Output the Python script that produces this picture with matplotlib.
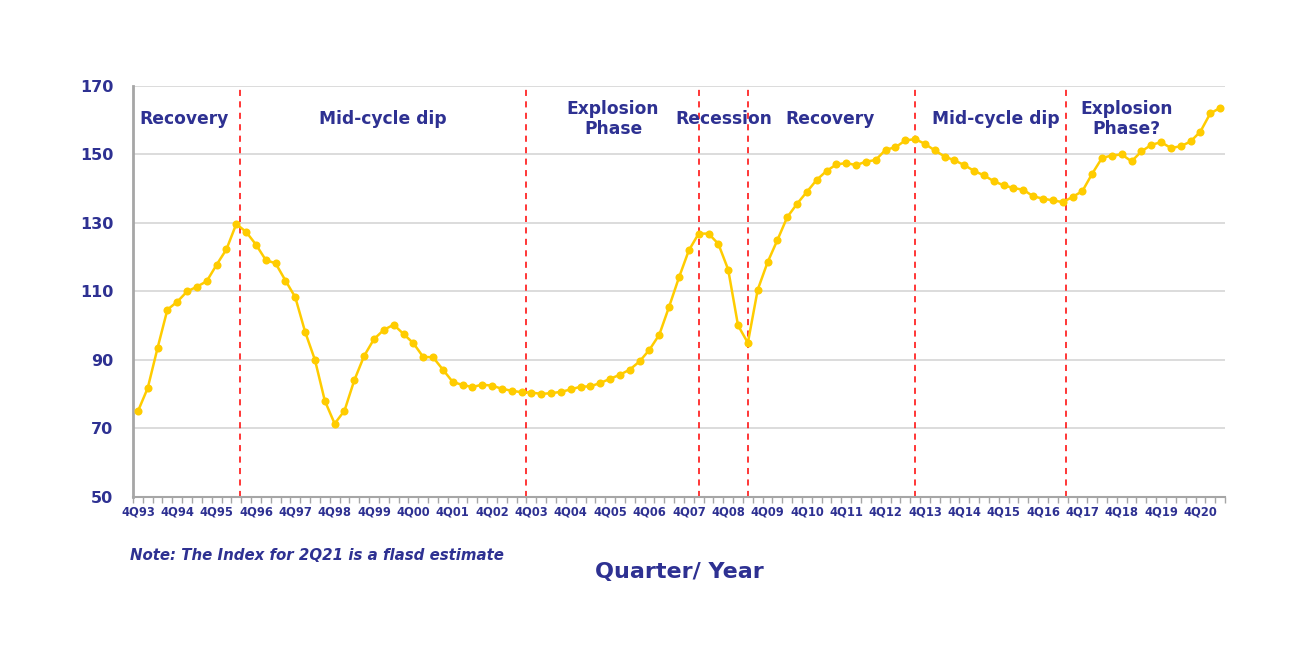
import numpy as np
import matplotlib
matplotlib.use("Agg")
import matplotlib.pyplot as plt

# quarters 4Q93 .. 2Q21
years = list(range(1993, 2022))
quarters = []
for y in years:
    for q in range(1, 5):
        if (y == 1993 and q < 4) or (y == 2021 and q > 2):
            continue
        quarters.append("%dQ%02d" % (q, y % 100))

index_values = [
    75.0, 81.8, 93.5, 104.7, 107.0, 110.0, 111.4, 113.0, 117.8, 122.3,
    129.7, 127.4, 123.7, 119.2, 118.2, 113.2, 108.3, 98.2, 90.0, 78.1,
    71.4, 75.2, 84.1, 91.2, 96.1, 98.8, 100.3, 97.6, 94.9, 90.9,
    90.8, 87.2, 83.6, 82.7, 82.1, 82.8, 82.5, 81.6, 81.0, 80.6,
    80.5, 80.1, 80.3, 80.7, 81.4, 82.2, 82.3, 83.3, 84.5, 85.7,
    87.2, 89.6, 93.0, 97.4, 105.6, 114.1, 122.0, 126.9, 126.9, 123.9,
    116.4, 100.1, 95.0, 110.5, 118.5, 125.0, 131.7, 135.6, 139.1, 142.6,
    145.2, 147.1, 147.5, 146.9, 147.9, 148.4, 151.4, 152.1, 154.1, 154.5,
    153.1, 151.2, 149.4, 148.3, 146.9, 145.2, 143.9, 142.2, 141.0, 140.2,
    139.7, 137.8, 137.1, 136.6, 136.1, 137.6, 139.3, 144.4, 149.0, 149.7,
    150.0, 148.0, 150.9, 152.8, 153.6, 151.9, 152.4, 153.8, 156.7, 162.0,
    163.6,
]

# phase boundaries (in quarter index) and phase labels
phase_breaks = [10.4, 39.5, 57.0, 62.0, 79.0, 94.3]
phase_names = ["Recovery", "Mid-cycle dip", "Explosion\nPhase", "Recession",
               "Recovery", "Mid-cycle dip", "Explosion\nPhase?"]
phase_label_x = [4.7, 24.9, 48.3, 59.6, 70.3, 87.2, 100.5]

yticks = [50, 70, 90, 110, 130, 150, 170]

navy = "#2E3192"
gold = "#FFCC00"

fig = plt.figure(figsize=(13.01, 6.51), dpi=100)
ax = fig.add_axes([0.1022, 0.2366, 0.8394, 0.6313])

x = np.arange(len(quarters))
ax.plot(x, index_values, color=gold, lw=1.8, marker="o", ms=5.8,
        markeredgewidth=0, zorder=3)

for b in phase_breaks:
    ax.axvline(b, color="#FF0000", lw=1.1, ls=(0, (4, 3.5)), zorder=2)

for name, px in zip(phase_names, phase_label_x):
    ax.text(px, 160.3, name, ha="center", va="center", color=navy,
            fontsize=12.3, fontweight="bold", linespacing=1.15, zorder=4)

ax.set_xlim(-0.5, len(quarters) - 0.5)
ax.set_ylim(50, 170)
ax.set_yticks(yticks)
ax.set_yticklabels([str(v) for v in yticks])
ax.grid(axis="y", color="#D9D9D9", lw=1.3)
ax.set_axisbelow(True)

lab_pos = [i for i, q in enumerate(quarters) if q.startswith("4Q")]
ax.set_xticks(lab_pos)
ax.set_xticklabels([quarters[i] for i in lab_pos])
ax.set_xticks(np.arange(-0.5, len(quarters), 1), minor=True)
ax.tick_params(axis="x", which="major", length=0, pad=6,
               labelsize=8.3, labelcolor=navy)
ax.tick_params(axis="x", which="minor", length=4, color="#A6A6A6", width=1)
ax.tick_params(axis="y", length=0, pad=14, labelsize=11.5, labelcolor=navy)
for lbl in ax.get_xticklabels() + ax.get_yticklabels():
    lbl.set_fontweight("bold")

for s in ["top", "right"]:
    ax.spines[s].set_visible(False)
ax.spines["left"].set_color("#A6A6A6")
ax.spines["left"].set_linewidth(2)
ax.spines["bottom"].set_color("#A6A6A6")
ax.spines["bottom"].set_linewidth(1.5)

fig.text(130 / 1301, 1 - 556 / 651, "Note: The Index for 2Q21 is a flasd estimate",
         ha="left", va="center", color=navy, fontsize=10.8,
         fontstyle="italic", fontweight="bold")
fig.text(679 / 1301, 1 - 572 / 651, "Quarter/ Year", ha="center", va="center",
         color=navy, fontsize=16, fontweight="bold")

fig.savefig("out.png", dpi=100, facecolor="white")
